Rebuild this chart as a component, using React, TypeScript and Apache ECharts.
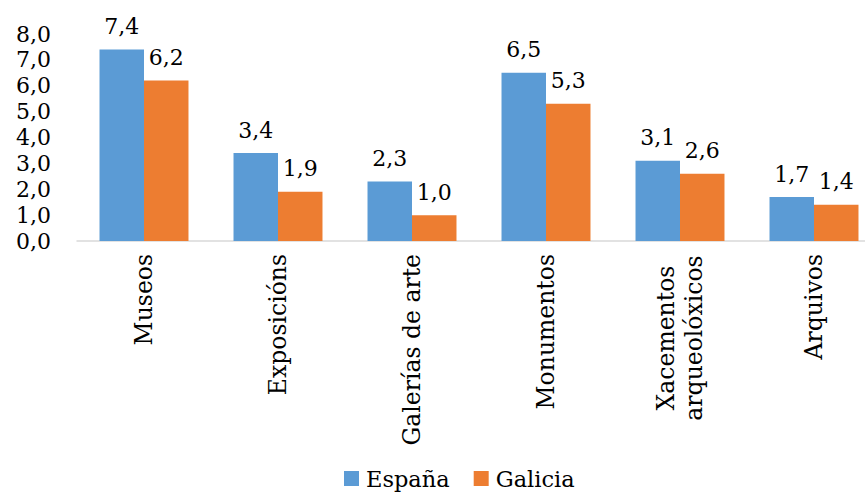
import React, { useEffect, useRef } from "react";
import * as echarts from "echarts";

const categories = ["Museos", "Exposicións", "Galerías de arte", "Monumentos", "Xacementos\narqueolóxicos", "Arquivos"];
const espana = [7.4, 3.4, 2.3, 6.5, 3.1, 1.7];
const galicia = [6.2, 1.9, 1.0, 5.3, 2.6, 1.4];
const seriesNames = ["España", "Galicia"];

const FONT = "DejaVu Serif";
const fmt = (v: number) => v.toFixed(1).replace(".", ",");

export default function App() {
  const ref = useRef<HTMLDivElement>(null);
  useEffect(() => {
    const chart = echarts.init(ref.current!, null, { renderer: "svg" });
    const label = {
      show: true,
      position: "top" as const,
      distance: 12,
      color: "#000",
      fontFamily: FONT,
      fontSize: 22,
      formatter: (p: any) => fmt(p.value),
    };
    chart.setOption({
      animation: false,
      textStyle: { fontFamily: FONT },
      legend: {
        top: 462,
        left: 339,
        itemWidth: 15,
        itemHeight: 15,
        itemGap: 24,
        icon: "rect",
        textStyle: { fontFamily: FONT, fontSize: 22.5, color: "#000", padding: [0, 0, 0, 2] },
        data: seriesNames,
      },
      grid: { left: 77, right: 0, top: 34, bottom: 251, containLabel: false },
      xAxis: {
        type: "category",
        data: categories,
        axisLine: { lineStyle: { color: "#d9d9d9", width: 1.5 } },
        axisTick: { show: false },
        axisLabel: {
          rotate: 90,
          margin: 13,
          color: "#000",
          fontFamily: FONT,
          fontSize: 23.5,
          interval: 0,
          lineHeight: 28,
          formatter: (v: string) =>
            v.indexOf("\n") >= 0
              ? v.split("\n").map((s) => `{c|${s}}`).join("\n")
              : v,
          rich: {
            c: {
              width: 168,
              align: "center",
              fontFamily: FONT,
              fontSize: 23.5,
              lineHeight: 28,
              color: "#000",
            },
          },
        },
      },
      yAxis: {
        type: "value",
        min: 0,
        max: 8,
        interval: 1,
        splitLine: { show: false },
        axisLine: { show: false },
        axisTick: { show: false },
        axisLabel: {
          margin: 26,
          color: "#000",
          fontFamily: FONT,
          fontSize: 22,
          formatter: (v: number) => fmt(v),
        },
      },
      series: [
        {
          name: seriesNames[0],
          type: "bar",
          data: espana,
          barGap: "0%",
          barCategoryGap: "33.6%",
          itemStyle: { color: "#5B9BD5" },
          label,
        },
        {
          name: seriesNames[1],
          type: "bar",
          data: galicia,
          itemStyle: { color: "#ED7D31" },
          label,
        },
      ],
    });
    return () => chart.dispose();
  }, []);
  return (
    <div style={{ position: "absolute", left: 0, top: 0, width: 865, height: 492, overflow: "hidden" }}>
      <div ref={ref} style={{ width: 881, height: 492 }} />
    </div>
  );
}
